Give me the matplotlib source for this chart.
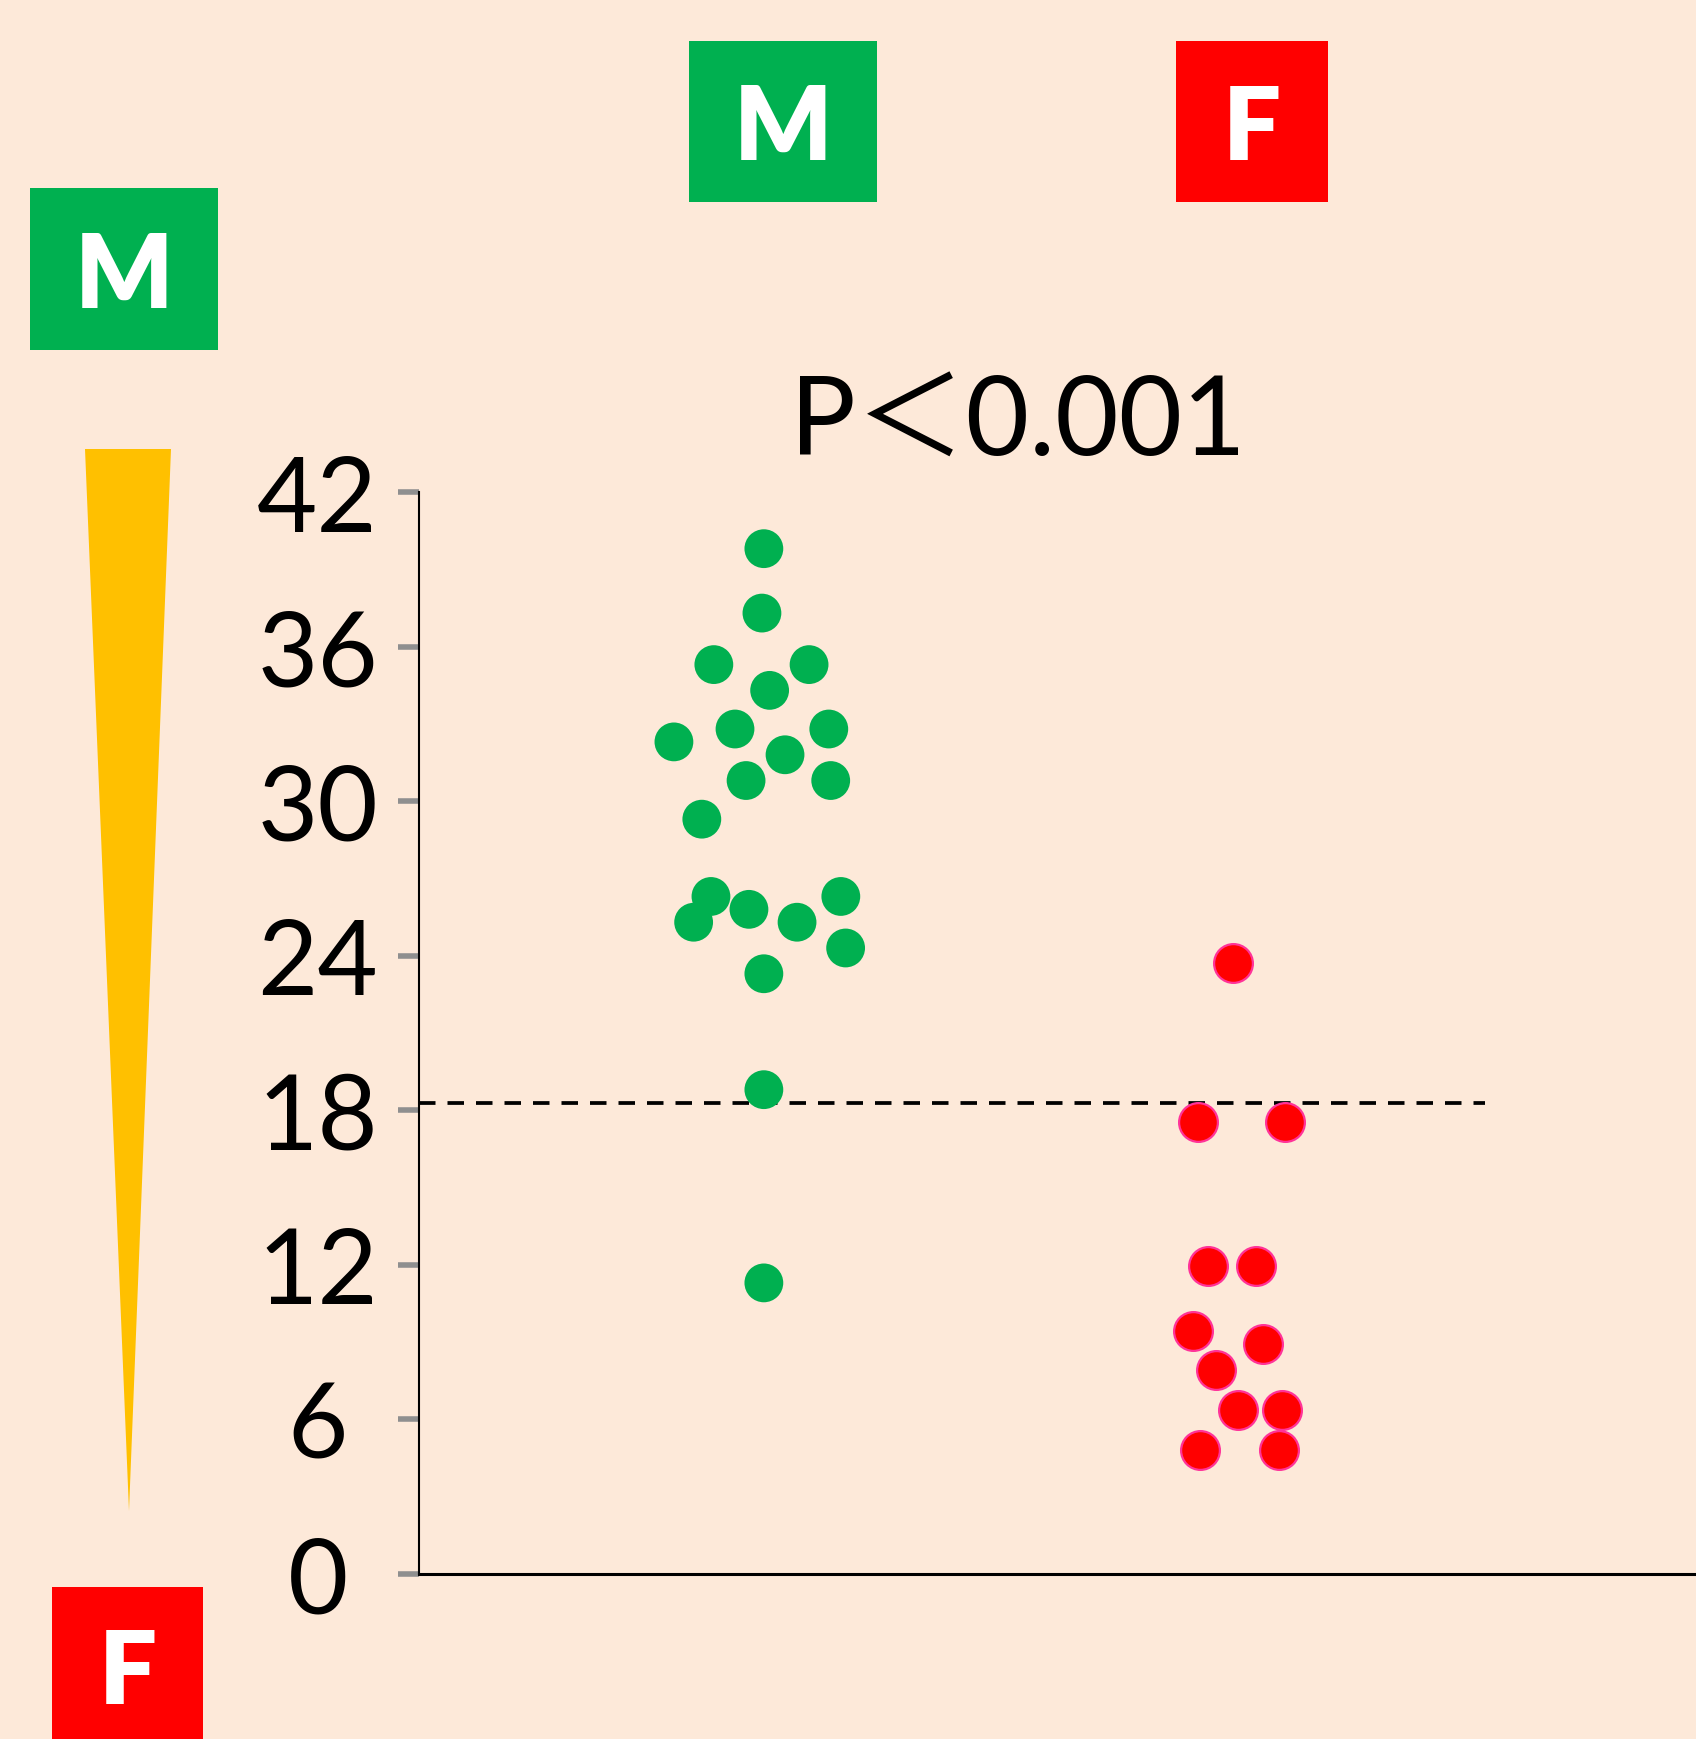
import matplotlib
matplotlib.use('Agg')
import matplotlib.pyplot as plt
from matplotlib.patches import Rectangle, Polygon

# dữ liệu
nhom = ['M', 'F']
m_vals = [39.8, 37.3, 35.3, 35.3, 34.3, 32.3, 32.8, 32.8, 31.8, 30.8, 30.8,
          29.3, 26.3, 25.3, 25.8, 25.3, 26.3, 24.3, 23.3, 18.8, 11.3]
m_jitter = [0.0, -0.004, -0.104, 0.094, 0.012, -0.187, -0.060, 0.135, 0.044, -0.037, 0.139,
            -0.129, -0.110, -0.146, -0.031, 0.069, 0.160, 0.170, 0.0, 0.0, 0.0]
f_vals = [23.7, 17.55, 17.55, 11.96, 11.96, 9.43, 8.93, 7.92, 6.37, 6.37, 4.81, 4.81]
f_jitter = [-0.024, -0.098, 0.084, -0.076, 0.024, -0.108, 0.038, -0.060, -0.014, 0.078, -0.094, 0.070]
nguong = 18.3
yticks = [0, 6, 12, 18, 24, 30, 36, 42]
p_text = 'P＜0.001'

nen = '#FDE9D9'
xanh = '#00B050'
do = '#FF0000'
vang = '#FFC000'
font = ['Lato', 'Noto Sans CJK JP', 'DejaVu Sans']

W, H = 1696, 1740
fig = plt.figure(figsize=(W / 100, H / 100), dpi=100, facecolor=nen)

# lớp trang trí theo toạ độ pixel
bg = fig.add_axes([0, 0, 1, 1], zorder=0)
bg.set_xlim(0, W)
bg.set_ylim(H, 0)
bg.axis('off')

def hop(x0, y0, x1, y1, mau, chu):
    bg.add_patch(Rectangle((x0, y0), x1 - x0, y1 - y0, color=mau, lw=0))
    bg.text((x0 + x1) / 2, (y0 + y1) / 2 + 8, chu, color='white', fontsize=74,
            fontweight='heavy', ha='center', va='center', family=font)

hop(689, 42, 877, 203, xanh, 'M')
hop(1176, 42, 1328, 203, do, 'F')
hop(30, 189, 218, 351, xanh, 'M')
hop(52, 1588, 203, 1745, do, 'F')
bg.add_patch(Polygon([(85, 450), (171, 450), (129, 1512)], closed=True, color=vang, lw=0))
bg.text(1018, 456, p_text, fontsize=79, ha='center', va='baseline', family=font)

# biểu đồ chính
ax = fig.add_axes([419 / W, (H - 1575) / H, 1 - 419 / W, (1575 - 493) / H], zorder=1)
ax.set_facecolor('none')
ax.set_ylim(0, 42)
ax.set_xlim(0.283, 2.938)

ax.scatter([1 + j for j in m_jitter], m_vals, s=780, color=xanh, edgecolors='none', clip_on=False, zorder=3)
ax.scatter([2 + j for j in f_jitter], f_vals, s=780, color=do, edgecolors='#FF3399', linewidths=1.6,
           clip_on=False, zorder=3)
ax.plot([0.283, 2.5], [nguong, nguong], color='black', lw=2.7, dashes=(4.4, 3.2), zorder=2)

ax.spines['top'].set_visible(False)
ax.spines['right'].set_visible(False)
ax.spines['left'].set_linewidth(1.5)
ax.spines['bottom'].set_linewidth(2.2)
ax.set_xticks([])
ax.set_yticks(yticks)
ax.set_yticklabels([str(v) for v in yticks], fontsize=75, family=font, ha='center')
ax.tick_params(axis='y', length=15, width=4, color='#8f8f8f', pad=58)

fig.savefig('out.png', dpi=100, facecolor=nen)
